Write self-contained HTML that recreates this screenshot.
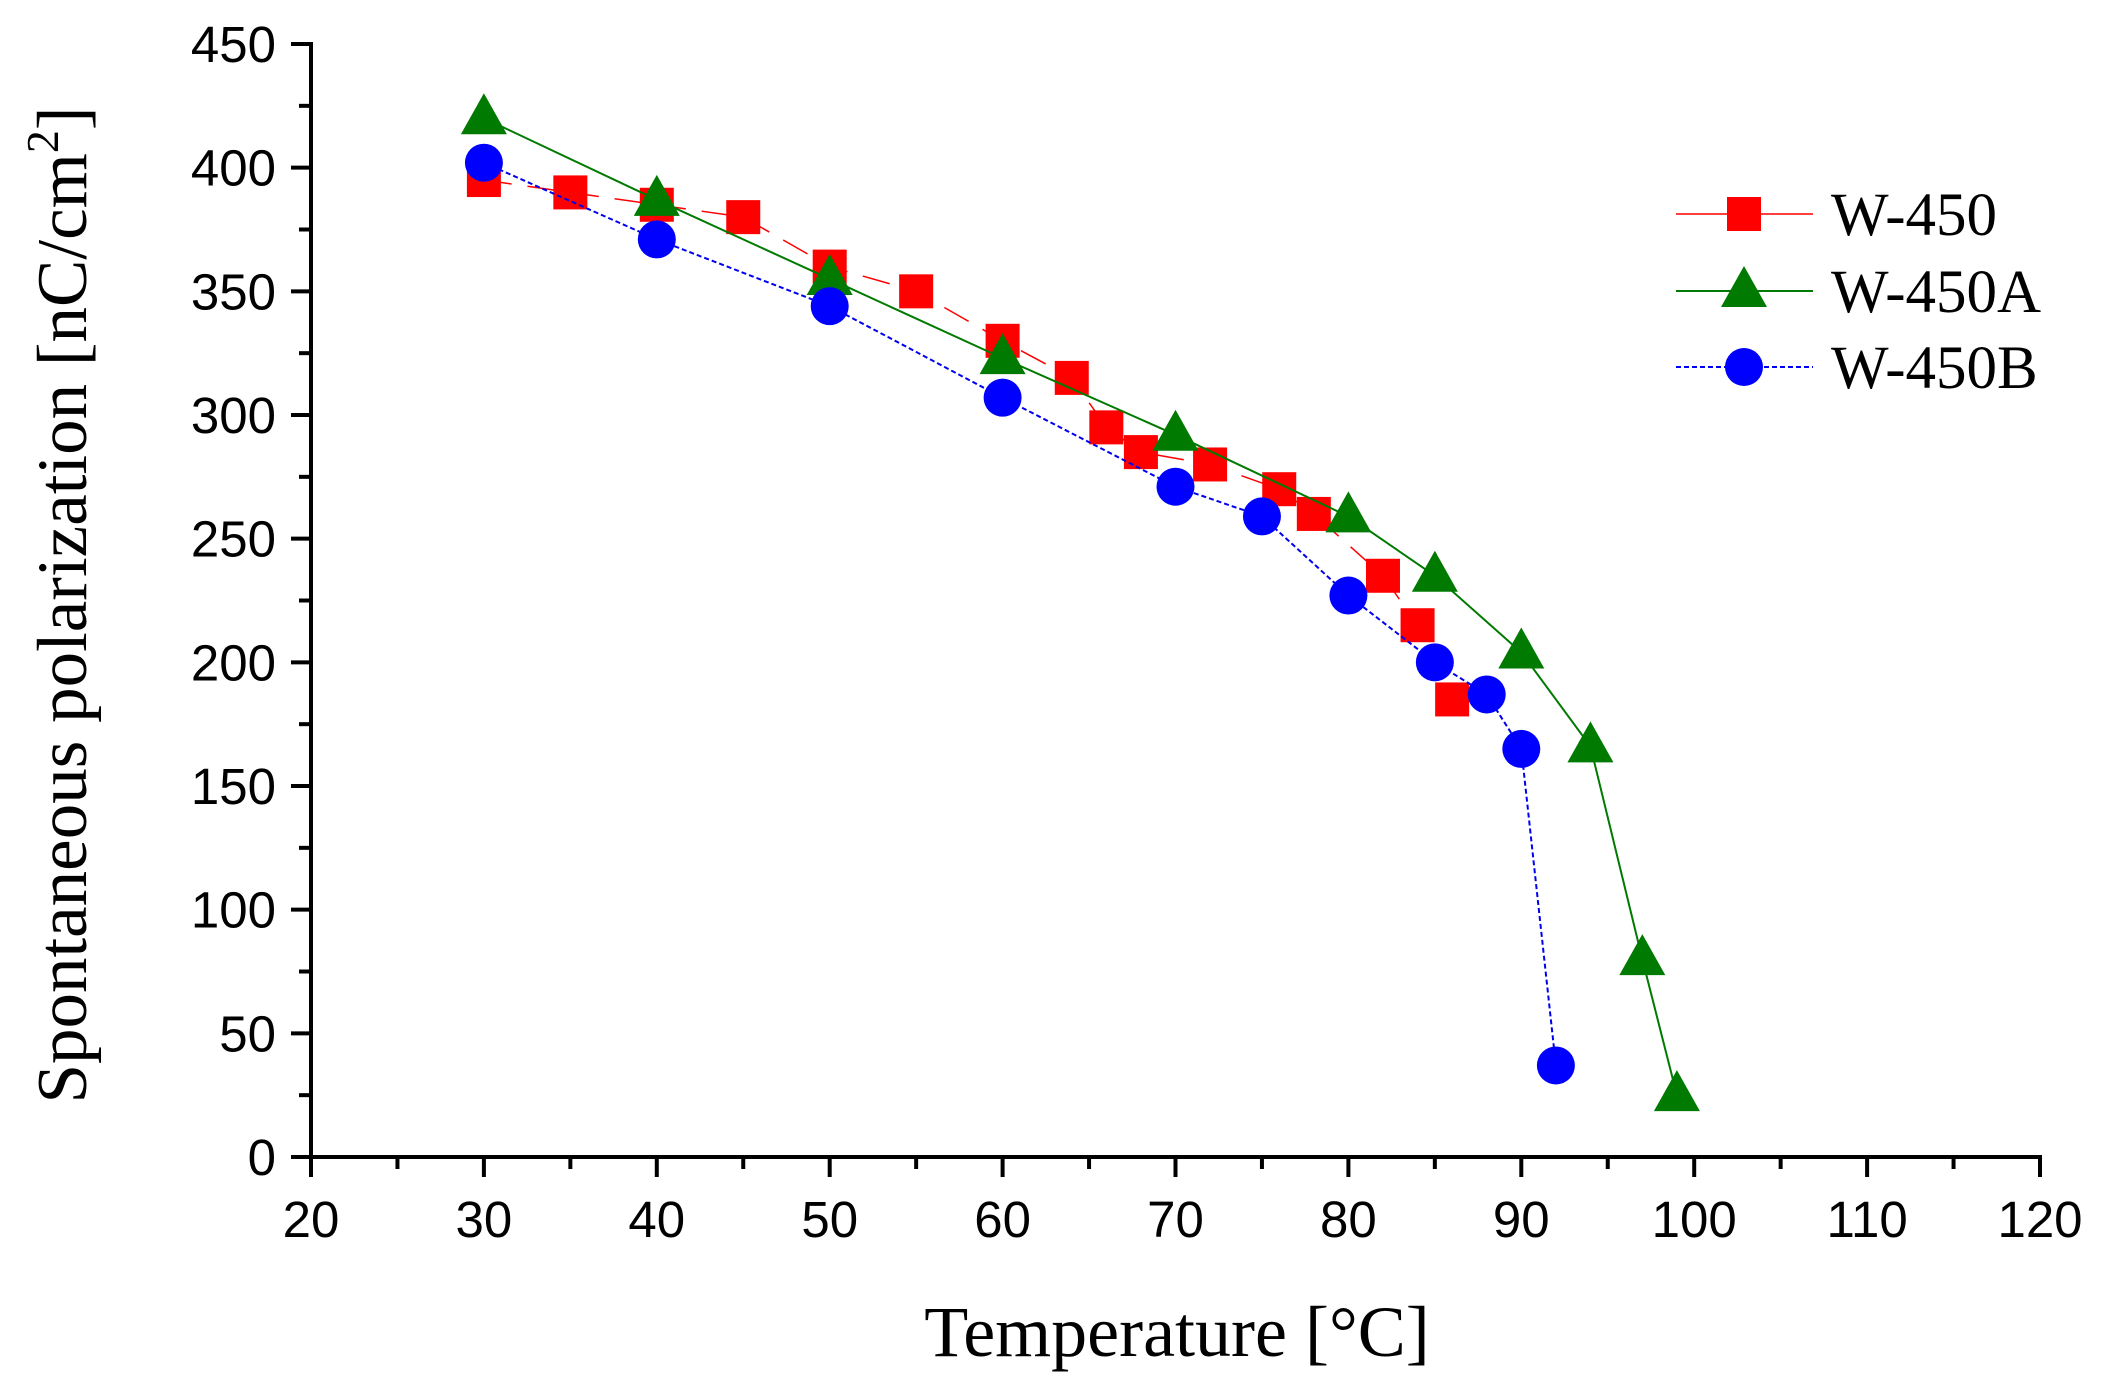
<!DOCTYPE html>
<html><head><meta charset="utf-8"><style>
body{margin:0;background:#fff}
svg{display:block}
</style></head><body>
<svg id="chart" width="2102" height="1391" viewBox="0 0 2102 1391" xmlns="http://www.w3.org/2000/svg">
<g id="axes"></g>
<g id="series"></g>
<text x="1177" y="1356" text-anchor="middle" font-family="Liberation Serif, serif" font-size="72">Temperature [°C]</text>
<text transform="translate(86,605) rotate(-90)" text-anchor="middle" font-family="Liberation Serif, serif" font-size="71">Spontaneous polarization [nC/cm<tspan dy="-28" font-size="46">2</tspan><tspan dy="28">]</tspan></text>
<g id="legend"></g>
</svg>
<script>
const xTicks=[20,30,40,50,60,70,80,90,100,110,120];
const yTicks=[0,50,100,150,200,250,300,350,400,450];
const t1=[30,35,40,45,50,55,60,64,66,68,72,76,78,82,84,86];
const v1=[395,390,385,380,360,350,330,315,295,285,280,270,260,235,215,185];
const t2=[30,40,50,60,70,80,85,90,94,97,99];
const v2=[420,387,355,323,292,259,235,204,166,80,25];
const t3=[30,40,50,60,70,75,80,85,88,90,92];
const v3=[402,371,344,307,271,259,227,200,187,165,37];
const names=["W-450","W-450A","W-450B"];
const NS="http://www.w3.org/2000/svg";
const X0=311,X1=2040,Y0=1157,Y1=44;
const sx=v=>X0+(v-20)/100*(X1-X0);
const sy=v=>Y0-v/450*(Y0-Y1);
function mk(tag,attrs,parent){const e=document.createElementNS(NS,tag);for(const k in attrs)e.setAttribute(k,attrs[k]);parent.appendChild(e);return e;}
const ax=document.getElementById('axes');
let l=mk('line',{x1:X0-2,y1:Y0,x2:X1+2,y2:Y0,stroke:'#000','stroke-width':4},ax);


l=mk('line',{x1:X0,y1:Y0+2,x2:X0,y2:Y1-2,stroke:'#000','stroke-width':4},ax);


xTicks.forEach((v,i)=>{
  const x=sx(v);
  const t=mk('line',{x1:x,y1:Y0,x2:x,y2:Y0+20,stroke:'#000','stroke-width':4},ax);
  
  
  if(i<xTicks.length-1){const m=mk('line',{x1:sx(v+5),y1:Y0,x2:sx(v+5),y2:Y0+12,stroke:'#000','stroke-width':4},ax);
  
  }
  const tx=mk('text',{x:x,y:Y0+80,'text-anchor':'middle','font-family':'Liberation Sans, sans-serif','font-size':51},ax);
  tx.textContent=v;
  
  
});
yTicks.forEach((v,i)=>{
  const y=sy(v);
  const t=mk('line',{x1:X0-20,y1:y,x2:X0,y2:y,stroke:'#000','stroke-width':4},ax);
  
  
  if(i<yTicks.length-1){const m=mk('line',{x1:X0-12,y1:sy(v+25),x2:X0,y2:sy(v+25),stroke:'#000','stroke-width':4},ax);
  
  }
  const tx=mk('text',{x:X0-35,y:y+18,'text-anchor':'end','font-family':'Liberation Sans, sans-serif','font-size':51},ax);
  tx.textContent=v;
  
  
});
const styles=[{c:'#ff0000',d:'28 16',w:1.5},{c:'#007a00',d:'',w:2},{c:'#0000ee',d:'5 3',w:2}];
function marker(k,x,y,p){
  if(k===0)return mk('rect',{x:x-17,y:y-17,width:34,height:34,fill:'#ff0000'},p);
  if(k===1)return mk('polygon',{points:`${x},${y-25} ${x-23},${y+16} ${x+23},${y+16}`,fill:'#007a00'},p);
  return mk('circle',{cx:x,cy:y,r:19,fill:'#0000ff'},p);
}
const sg=document.getElementById('series');
[[t1,v1],[t2,v2],[t3,v3]].forEach((s,k)=>{
  const g=mk('g',{},sg);
  
  
  const pl=mk('polyline',{points:s[0].map((t,i)=>sx(t)+','+sy(s[1][i])).join(' '),fill:'none',stroke:styles[k].c,'stroke-width':styles[k].w,'stroke-dasharray':styles[k].d},g);
  
  
  s[0].forEach((t,i)=>{const m=marker(k,sx(t),sy(s[1][i]),g);
    
    });
});
const lg=document.getElementById('legend');
[214,291,367].forEach((y,k)=>{
  const g=mk('g',{},lg);
  
  
  mk('line',{x1:1676,y1:y,x2:1813,y2:y,stroke:styles[k].c,'stroke-width':styles[k].w,'stroke-dasharray':k===2?'5 3':''},g);
  marker(k,1744,y,g);
  const tx=mk('text',{x:1831,y:y+21,'font-family':'Liberation Serif, serif','font-size':61},g);
  tx.textContent=names[k];
});
</script>
</body></html>
